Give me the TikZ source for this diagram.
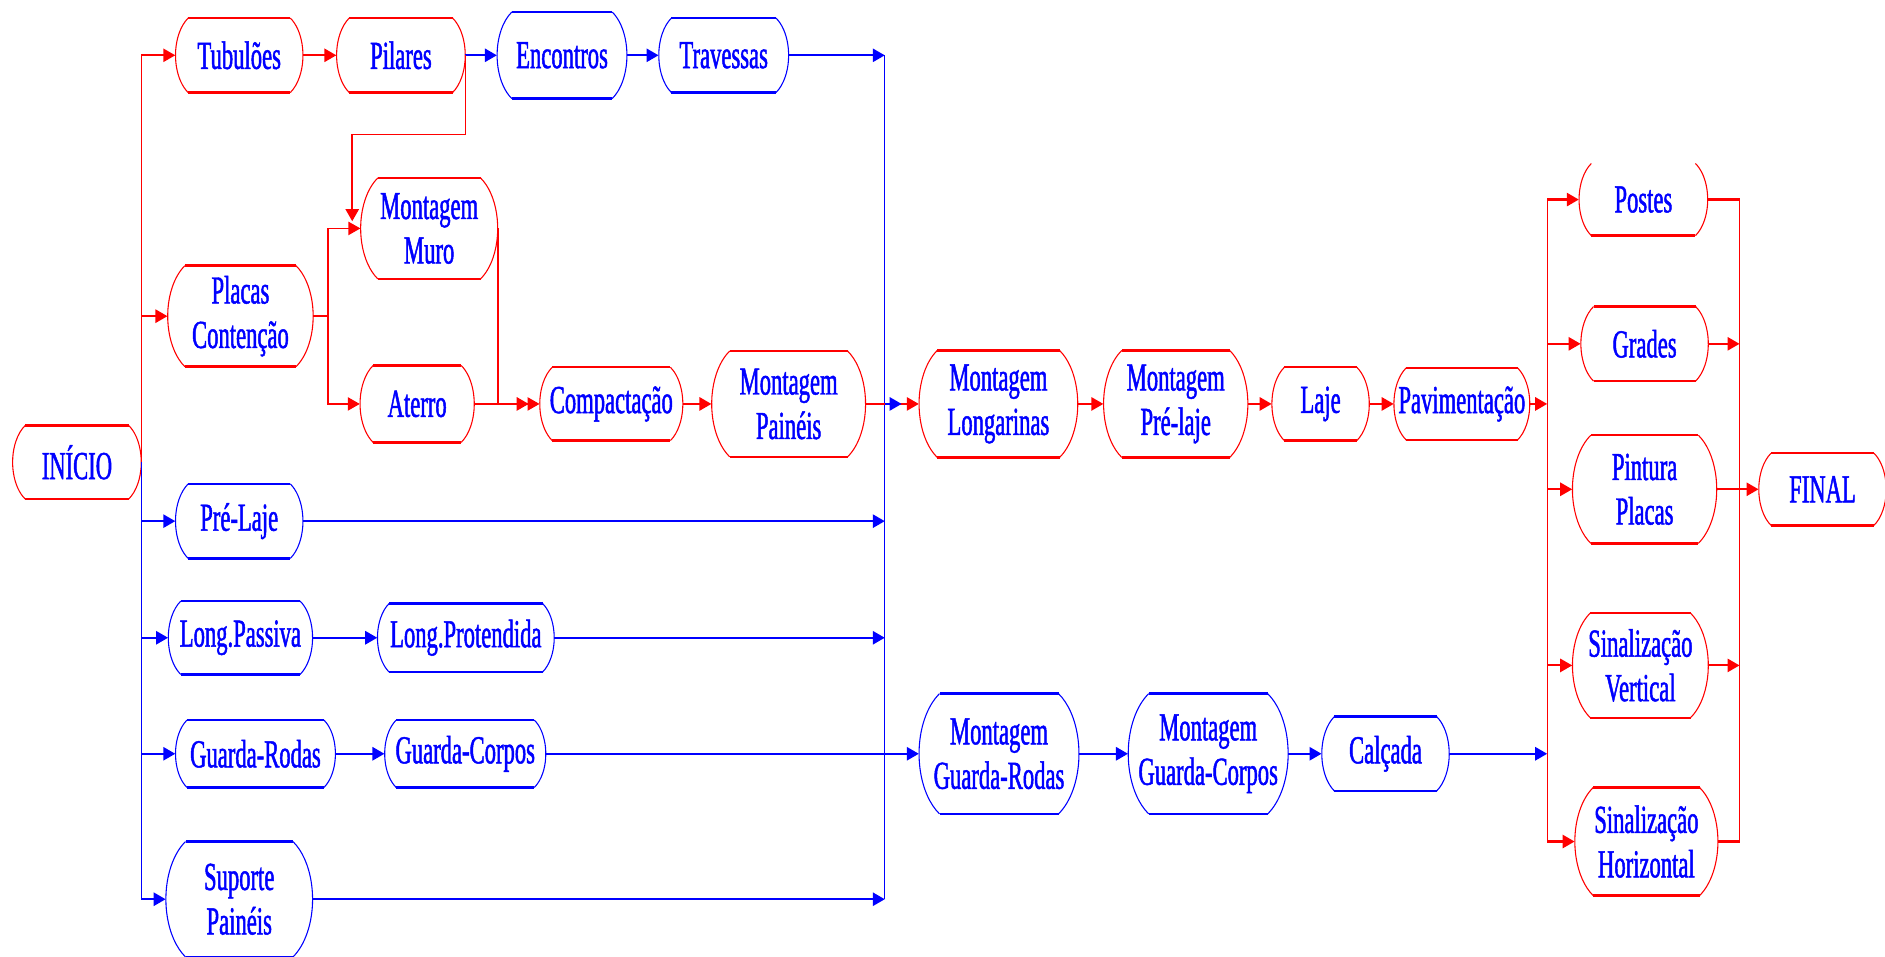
\documentclass[tikz,border=0pt]{standalone}
\usepackage{fontspec}
\setmainfont{Liberation Serif}[FakeStretch=0.57,FakeBold=1.2]
\usetikzlibrary{arrows.meta,calc}

\definecolor{tred}{RGB}{255,0,0}
\definecolor{tblue}{RGB}{0,0,255}

\tikzset{
  stagebox/.style={draw=none, inner sep=0pt, shape=rectangle},
  stagelabel/.style={font=\fontsize{33}{37}\selectfont, text=tblue, align=center, inner sep=0pt},
  tip/.style={-{Triangle[length=10pt,width=11pt]}},
  rflow/.style={draw=tred, line width=1.8pt, tip},
  bflow/.style={draw=tblue, line width=1.8pt, tip},
  rline/.style={draw=tred, line width=1.8pt},
  rbend/.style={draw=tred, line width=1.4pt, tip},
  rbus/.style={draw=tred, line width=1.1pt},
  bbus/.style={draw=tblue, line width=1.1pt},
}

% activity box: flat top and bottom, elliptic bulging sides
\newif\ifstagetop \stagetoptrue
\newcommand\stage[7]{%
  \pgfmathsetmacro\sxl{#2-#4/2}%
  \pgfmathsetmacro\sxr{#2+#4/2}%
  \pgfmathsetmacro\syt{-#3+#5/2}%
  \pgfmathsetmacro\syb{-#3-#5/2}%
  \pgfmathsetmacro\sbx{0.17*#5}%
  \pgfmathsetmacro\srx{2*\sbx}%
  \pgfmathsetmacro\sry{0.57735*#5}%
  \node[stagebox, minimum width=#4pt, minimum height=#5pt] (#1) at (#2,-#3) {};
  \node[stagelabel] at (#2,-#3) {#7};
  \draw[#6, line width=0.9pt]
    (\sxr-\sbx,\syt) arc[start angle=60, end angle=-60, x radius=\srx, y radius=\sry]
    (\sxl+\sbx,\syb) arc[start angle=240, end angle=120, x radius=\srx, y radius=\sry];
  \draw[#6, line width=2pt] (\sxl+\sbx,\syb) -- (\sxr-\sbx,\syb);
  \ifstagetop\draw[#6, line width=2pt] (\sxl+\sbx,\syt) -- (\sxr-\sbx,\syt);\fi
}

\begin{document}
\begin{tikzpicture}[x=1pt, y=1pt]
\useasboundingbox (0,0) rectangle (1568,-796);
\fill[white] (0,0) rectangle (1568,-796);

% ---- activities ----
\stage{inicio}{64}{384.5}{107}{61}{tred}{INÍCIO}
\stage{tub}{199}{46}{106}{62}{tred}{Tubulões}
\stage{pil}{333.5}{46}{107}{62}{tred}{Pilares}
\stage{enc}{467.5}{46}{108}{72}{tblue}{Encontros}
\stage{trav}{602}{46}{108}{62}{tblue}{Travessas}
\stage{muro}{357}{190}{114}{84}{tred}{Montagem\\Muro}
\stage{plc}{200}{263}{121}{84}{tred}{Placas\\Contenção}
\stage{ate}{347}{336}{95}{64}{tred}{Aterro}
\stage{comp}{508.5}{336}{119}{61}{tred}{Compactação}
\stage{mpai}{656}{336}{128}{88}{tred}{Montagem\\Painéis}
\stage{mlon}{830.5}{336}{132}{89}{tred}{Montagem\\Longarinas}
\stage{mpre}{978}{336}{120}{89}{tred}{Montagem\\Pré-laje}
\stage{laje}{1098.5}{336}{81}{61}{tred}{Laje}
\stage{pav}{1216}{336}{113}{60}{tred}{Pavimentação}
\stagetopfalse
\stage{postes}{1367}{166}{107}{60}{tred}{Postes}
\stagetoptrue
\stage{grades}{1368}{286}{106}{62}{tred}{Grades}
\stage{pin}{1368}{407}{120}{90}{tred}{Pintura\\Placas}
\stage{final}{1516}{407}{106}{60}{tred}{FINAL}
\stage{sinv}{1364.5}{553.5}{113}{87}{tred}{Sinalização\\Vertical}
\stage{sinh}{1369.5}{700}{119}{90}{tred}{Sinalização\\Horizontal}
\stage{prel}{199}{433.5}{106}{62}{tblue}{Pré-Laje}
\stage{lpas}{200}{530.5}{120}{61}{tblue}{Long.Passiva}
\stage{lpro}{387.5}{530.5}{147}{57}{tblue}{Long.Protendida}
\stage{grod}{212.5}{627}{133}{56}{tblue}{Guarda-Rodas}
\stage{gcor}{387}{627}{134}{56}{tblue}{Guarda-Corpos}
\stage{sup}{199}{748}{122}{96}{tblue}{Suporte\\Painéis}
\stage{mgr}{831}{627}{133}{100}{tblue}{Montagem\\Guarda-Rodas}
\stage{mgc}{1005}{627}{133}{100}{tblue}{Montagem\\Guarda-Corpos}
\stage{calc}{1152.5}{627}{106}{62}{tblue}{Calçada}

% ---- junction points ----
\coordinate (hubtop) at (736,-46);
\coordinate (hubmid) at (736,-336);
\coordinate (hubbot) at (736,-748);
\coordinate (muroin) at (293,-184);
\coordinate (pcj) at (273,-263);
\coordinate (fantop) at (1287,-166);
\coordinate (fanbot) at (1287,-700);
\coordinate (jointop) at (1447,-166);
\coordinate (joinbot) at (1447,-700);

% ---- start distribution ----
\draw[rbus] (inicio.east) -- (inicio.east |- tub.west);
\draw[bbus] (inicio.east) -- (inicio.east |- sup.west);
\draw[rflow] (inicio.east |- tub.west) -- (tub.west);
\draw[rflow] (inicio.east |- plc.west) -- (plc.west);
\draw[bflow] (inicio.east |- prel.west) -- (prel.west);
\draw[bflow] (inicio.east |- lpas.west) -- (lpas.west);
\draw[bflow] (inicio.east |- grod.west) -- (grod.west);
\draw[bflow] (inicio.east |- sup.west) -- (sup.west);

% ---- foundations and abutments ----
\draw[rflow] (tub) -- (pil);
\draw[bflow] (pil) -- (enc);
\draw[bflow] (enc) -- (trav);
\draw[bbus] (hubtop) -- (hubbot);
\draw[bflow] (trav) -- (hubtop);
\draw[rbend] (pil.east) -- ++(0,-66) -| (muroin);

% ---- retaining wall ----
\draw[rline] (plc) -- (pcj);
\draw[rbend] (pcj) |- (muro.west);
\draw[rbend] (pcj) |- (ate.west);
\draw[rbend] (muro.east) |- (comp.west);
\draw[rflow, shorten >=9pt] (ate) -- (comp);
\draw[rflow] (comp) -- (mpai);

% ---- precast elements ----
\draw[bflow] (prel) -- (prel -| hubtop);
\draw[bflow] (lpas) -- (lpro);
\draw[bflow] (lpro) -- (lpro -| hubtop);
\draw[bflow] (grod) -- (gcor);
\draw[bflow] (gcor) -- (mgr);
\draw[bflow] (sup) -- (sup -| hubtop);

% ---- deck ----
\draw[rflow] (mpai) -- (mlon);
\draw[bflow] (hubmid) -- ++(14,0);
\draw[rflow] (mlon) -- (mpre);
\draw[rflow] (mpre) -- (laje);
\draw[rflow] (laje) -- (pav);
\draw[rflow] (pav) -- (pav -| fantop);

% ---- sidewalk ----
\draw[bflow] (mgr) -- (mgc);
\draw[bflow] (mgc) -- (calc);
\draw[bflow] (calc) -- (calc -| fantop);

% ---- finishing ----
\draw[rbus] (fantop) -- (fanbot);
\draw[rflow] (fantop) -- (postes);
\draw[rflow] (grades -| fantop) -- (grades);
\draw[rflow] (pin -| fantop) -- (pin);
\draw[rflow] (sinv -| fantop) -- (sinv);
\draw[rflow] (fanbot) -- (sinh);
\draw[rbus] (jointop) -- (joinbot);
\draw[rline] (postes) -- (jointop);
\draw[rflow] (grades) -- (grades -| jointop);
\draw[rflow] (pin) -- (final);
\draw[rflow] (sinv) -- (sinv -| jointop);
\draw[rline] (sinh) -- (joinbot);
\end{tikzpicture}
\end{document}
